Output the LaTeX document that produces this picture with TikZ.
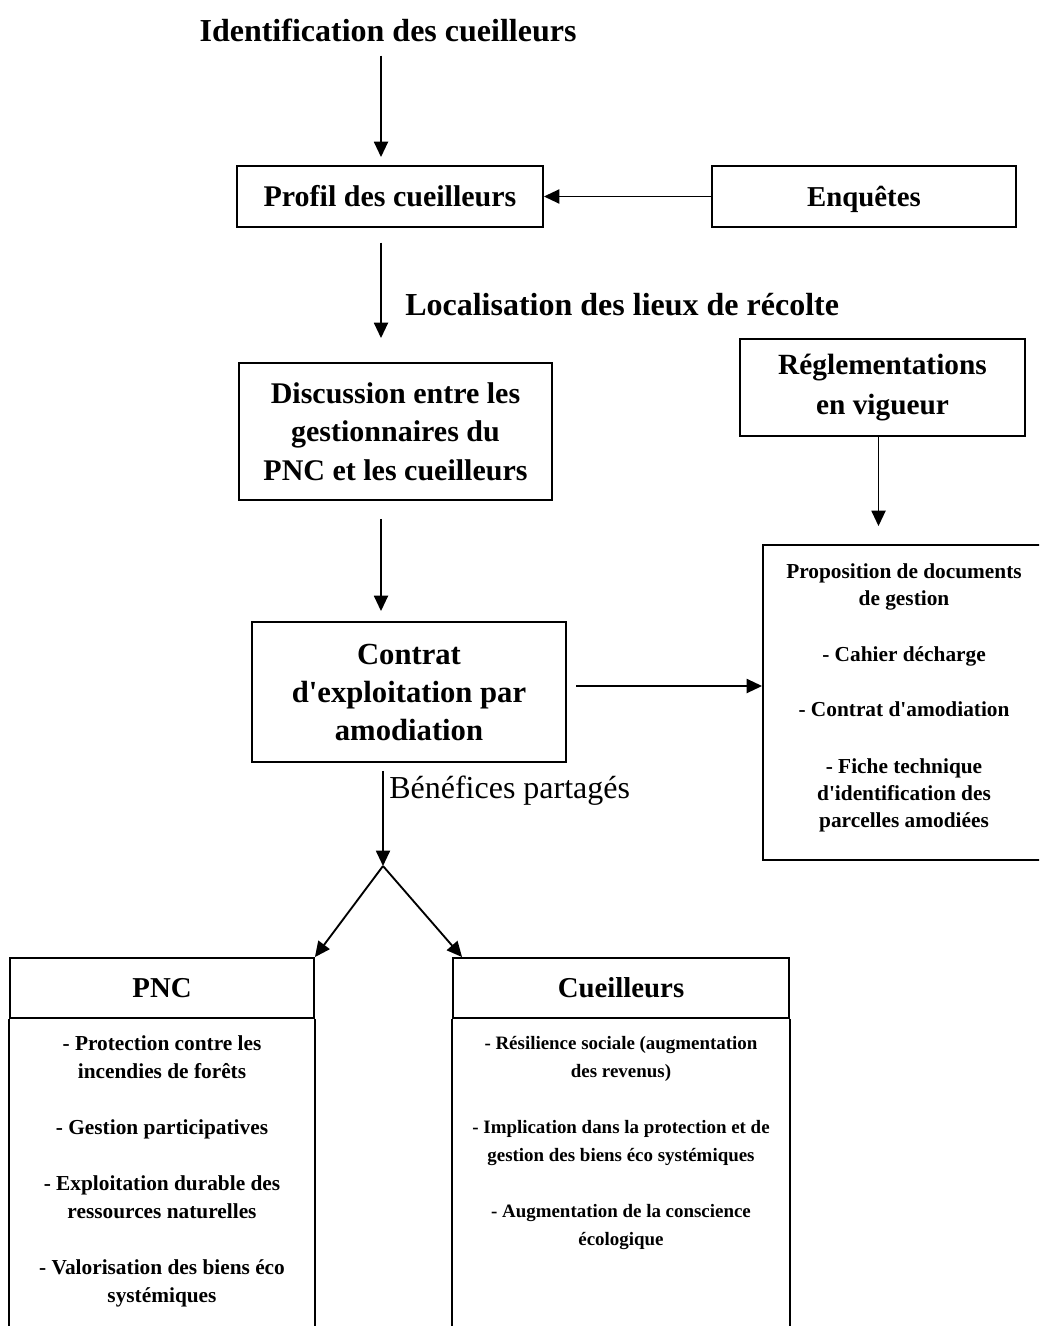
\documentclass[tikz,border=0pt]{standalone}
\usepackage{fontspec}
\setmainfont{Liberation Serif}[Ligatures=TeXOff]
\usetikzlibrary{positioning,arrows.meta}

\begin{document}
\begin{tikzpicture}[
x=0.75pt, y=-0.75pt,
box/.style={draw, line width=1.4pt, align=center, inner sep=0pt, font=\fontsize{22.5}{29}\selectfont\bfseries},
headbox/.style={box, minimum height=45pt, font=\fontsize{21.6}{26}\selectfont\bfseries},
bigtext/.style={inner sep=0pt, font=\fontsize{24}{29}\selectfont\bfseries},
listtext/.style={inner sep=0pt, align=center, font=\fontsize{16}{21}\selectfont\bfseries},
arr/.style={line width=1.4pt, -{Triangle[length=11.5pt,width=10.5pt]}},
side/.style={line width=1.4pt},
]
\path[use as bounding box] (0,0) rectangle (1039,1326);
\clip (0,0) rectangle (1039,1326);

% upper chain
\coordinate (spine) at (381,0);
\node[bigtext] (ident) at (388,30) {Identification des cueilleurs};
\node[box, minimum width=229.5pt, minimum height=45.75pt] (profil) at (390,196.5) {Profil des cueilleurs};
\node[box, minimum width=228pt, minimum height=45.75pt, text depth=0pt, font=\fontsize{21.6}{26}\selectfont\bfseries] (enquetes) at (864,196.5) {Enquêtes};
\node[bigtext, anchor=west] (loc) at (405,305) {Localisation des lieux de récolte};
\node[box, minimum width=234.75pt, minimum height=102.75pt] (discussion) at (395.5,431.5)
	{Discussion entre les\\gestionnaires du\\PNC et les cueilleurs};
\node[box, minimum width=235.5pt, minimum height=105pt, font=\fontsize{23}{28.5}\selectfont\bfseries] (contrat) at (409,692)
	{Contrat\\d'exploitation par\\amodiation};

% right column
\node[box, minimum width=213.75pt, minimum height=72.75pt, font=\fontsize{22}{30}\selectfont\bfseries] (reglement) at (882.5,387.5)
	{Réglementations\\en vigueur};
\node[box, minimum width=211.5pt, minimum height=236.25pt] (proposition) at (904,702.5) {};
\node[listtext, font=\fontsize{16}{20.25}\selectfont\bfseries, below=14.5pt of proposition.north] (proptext)
	{Proposition de documents\\de gestion\\[22pt]- Cahier décharge\\[21pt]- Contrat d'amodiation\\[22pt]- Fiche technique\\d'identification des\\parcelles amodiées};

% sharing
\coordinate (split) at (383,866);
\node[anchor=west, inner sep=0pt, font=\fontsize{24}{29}\selectfont] (benef) at (389,791) {Bénéfices partagés};

% bottom boxes
\node[headbox, minimum width=228pt] (pnchead) at (162,988) {PNC};
\node[headbox, minimum width=252pt] (cueilhead) at (621,988) {Cueilleurs};
\node[listtext, below=12pt of pnchead] (pnctext)
	{- Protection contre les\\incendies de forêts\\[21pt]- Gestion participatives\\[21pt]- Exploitation durable des\\ressources naturelles\\[21pt]- Valorisation des biens éco\\systémiques};
\node[listtext, below=12.5pt of cueilhead, font=\fontsize{14.2}{21}\selectfont\bfseries] (cueiltext)
	{- Résilience sociale (augmentation\\des revenus)\\[21pt]- Implication dans la protection et de\\gestion des biens éco systémiques\\[21pt]- Augmentation de la conscience\\écologique};
\draw[side] (pnchead.south west) -- ++(0,420);
\draw[side] (pnchead.south east) -- ++(0,420);
\draw[side] (cueilhead.south west) -- ++(0,420);
\draw[side] (cueilhead.south east) -- ++(0,420);

% connectors
\draw[arr, shorten <=10.5pt, shorten >=6pt] (ident.south -| spine) -- (profil.north -| spine);
\draw[arr] (enquetes.west) -- (profil.east);
\draw[arr, shorten <=11pt, shorten >=18pt] (profil.south -| spine) -- (discussion.north -| spine);
\draw[arr, shorten <=13.5pt, shorten >=7.5pt] (discussion.south -| spine) -- (contrat.north -| spine);
\draw[arr, shorten >=13.5pt] ([xshift=-3pt]reglement.south) -- ([xshift=-3pt]reglement.south |- proposition.north);
\draw[arr, shorten <=7pt] ([yshift=4.5pt]contrat.east) -- ([yshift=4.5pt]contrat.east -| proposition.west);
\draw[arr, shorten <=6pt] (contrat.south -| split) -- (split);
\draw[arr] (split) -- (pnchead.north east);
\draw[arr] (split) -- ([xshift=7.5pt]cueilhead.north west);
\end{tikzpicture}
\end{document}
